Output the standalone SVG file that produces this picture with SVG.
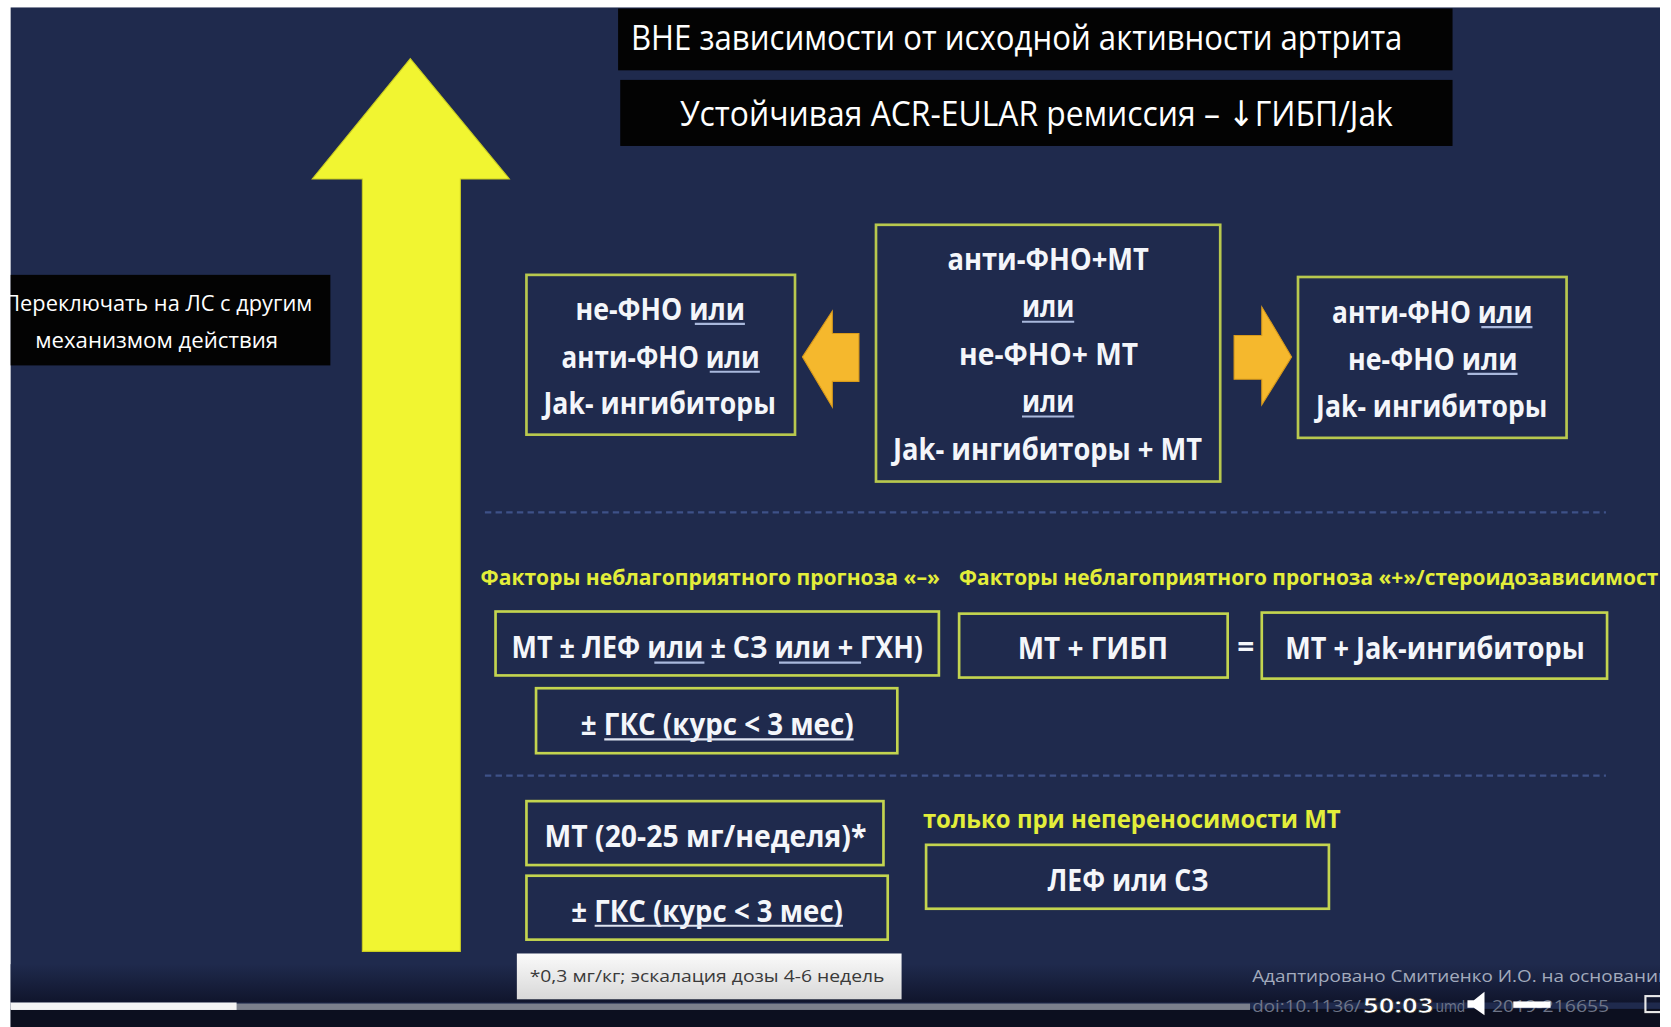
<svg xmlns="http://www.w3.org/2000/svg" width="1671" height="1027" viewBox="0 0 1671 1027">
<defs>
<style>
.bx{fill:#1f2a4d;stroke:#b8c84e;stroke-width:2.5}
.bx2{fill:#1f2a4d;stroke:#c3d44f;stroke-width:2.5}
.t{font-family:"Open Sans","Noto Sans","DejaVu Sans",sans-serif;font-weight:700;fill:#f4f6fa;font-size:28px}
.ttl{font-family:"Open Sans","Noto Sans","DejaVu Sans",sans-serif;font-weight:400;fill:#ffffff;font-size:33px}
.y{font-family:"Open Sans","Noto Sans","DejaVu Sans",sans-serif;font-weight:700;fill:#e3ee3a}
.ul{stroke:#a9b8dc;stroke-width:2}
.ulw{stroke:#dfe5f2;stroke-width:2}
.dash{stroke:#3e5188;stroke-width:2;stroke-dasharray:6 4;fill:none}
.orng{fill:#f5b82d;stroke:#d99a1a;stroke-width:1}
.doi{font-family:"Open Sans","Noto Sans",sans-serif;font-size:16px;fill:#6e7588}
</style>
<linearGradient id="bot" x1="0" y1="0" x2="0" y2="1">
<stop offset="0" stop-color="#1f2a4d"/>
<stop offset="1" stop-color="#10152c"/>
</linearGradient>
<linearGradient id="fn" x1="0" y1="0" x2="0" y2="1">
<stop offset="0" stop-color="#fafafa"/>
<stop offset="1" stop-color="#d8d8d8"/>
</linearGradient>
</defs>
<rect x="0" y="0" width="1671" height="1027" fill="#ffffff"/>
<g transform="scale(1.06569,1.06535)">
<rect x="10" y="7" width="1548" height="957" fill="#1f2a4d"/>
<rect x="10" y="905" width="1548" height="36" fill="url(#bot)"/>
<rect x="10" y="947" width="1548" height="17" fill="#0c0f1f"/>

<g id="title1">
<rect x="580" y="8" width="783" height="58" fill="#030303"/>
<text class="ttl" x="592" y="47" textLength="724" lengthAdjust="spacingAndGlyphs">ВНЕ зависимости от исходной активности артрита</text>
</g>
<g id="title2">
<rect x="582" y="75" width="781" height="62" fill="#030303"/>
<text class="ttl" x="638" y="118" textLength="669" lengthAdjust="spacingAndGlyphs">Устойчивая ACR-EULAR ремиссия – ↓ГИБП/Jak</text>
</g>

<g id="big-arrow">
<polygon points="385,55 478,168 432,168 432,893 340,893 340,168 293,168" fill="#f1f531" stroke="#c9cc22" stroke-width="1"/>
</g>

<g id="switch-note">
<rect x="10" y="258" width="300" height="85" fill="#030303"/>
<text x="4" y="292" font-family="Open Sans, Noto Sans, sans-serif" font-size="21" fill="#ffffff" textLength="289" lengthAdjust="spacingAndGlyphs">Переключать на ЛС с другим</text>
<text x="33" y="327" font-family="Open Sans, Noto Sans, sans-serif" font-size="21" fill="#ffffff" textLength="228" lengthAdjust="spacingAndGlyphs">механизмом действия</text>
</g>

<g id="box-left">
<rect class="bx" x="494" y="258" width="252" height="150"/>
<text class="t" x="540" y="300" textLength="159" lengthAdjust="spacingAndGlyphs">не-ФНО или</text>
<text class="t" x="527" y="345" textLength="186" lengthAdjust="spacingAndGlyphs">анти-ФНО или</text>
<text class="t" x="510" y="389" textLength="218" lengthAdjust="spacingAndGlyphs">Jak- ингибиторы</text>
<line class="ul" x1="652" y1="304" x2="699" y2="304"/>
<line class="ul" x1="666" y1="349" x2="713" y2="349"/>
</g>

<g id="box-center">
<rect class="bx" x="822" y="211" width="323" height="241"/>
<text class="t" x="889" y="253" textLength="189" lengthAdjust="spacingAndGlyphs">анти-ФНО+МТ</text>
<text class="t" x="959" y="298" textLength="49" lengthAdjust="spacingAndGlyphs">или</text>
<text class="t" x="900" y="343" textLength="168" lengthAdjust="spacingAndGlyphs">не-ФНО+ МТ</text>
<text class="t" x="959" y="387" textLength="49" lengthAdjust="spacingAndGlyphs">или</text>
<text class="t" x="838" y="432" textLength="290" lengthAdjust="spacingAndGlyphs">Jak- ингибиторы + МТ</text>
<line class="ul" x1="959" y1="302" x2="1008" y2="302"/>
<line class="ul" x1="959" y1="391" x2="1008" y2="391"/>
</g>

<g id="box-right">
<rect class="bx" x="1218" y="260" width="252" height="151"/>
<text class="t" x="1250" y="303" textLength="188" lengthAdjust="spacingAndGlyphs">анти-ФНО или</text>
<text class="t" x="1265" y="347" textLength="159" lengthAdjust="spacingAndGlyphs">не-ФНО или</text>
<text class="t" x="1235" y="391" textLength="217" lengthAdjust="spacingAndGlyphs">Jak- ингибиторы</text>
<line class="ul" x1="1390" y1="307" x2="1438" y2="307"/>
<line class="ul" x1="1377" y1="351" x2="1424" y2="351"/>
</g>

<g id="connectors">
<polygon class="orng" points="753,335 781,292 781,313 806,313 806,358 781,358 781,382"/>
<polygon class="orng" points="1158,315 1184,315 1184,288 1212,335 1184,380 1184,356 1158,356"/>
<line class="dash" x1="455" y1="481" x2="1507" y2="481"/>
<line class="dash" x1="455" y1="728" x2="1507" y2="728"/>
</g>

<g id="label-minus">
<text class="y" x="451" y="549" font-size="20" textLength="431" lengthAdjust="spacingAndGlyphs">Факторы неблагоприятного прогноза «–»</text>
</g>
<g id="label-plus">
<text class="y" x="900" y="549" font-size="20" textLength="656" lengthAdjust="spacingAndGlyphs">Факторы неблагоприятного прогноза «+»/стероидозависимост</text>
</g>

<g id="box-mt-lef">
<rect class="bx2" x="465" y="574" width="416" height="60"/>
<text class="t" x="480" y="618" font-size="29" font-weight="600" textLength="386" lengthAdjust="spacingAndGlyphs">МТ ± ЛЕФ или ± СЗ или + ГХН)</text>
<line class="ul" x1="614" y1="622" x2="661" y2="622"/>
<line class="ul" x1="731" y1="622" x2="808" y2="622"/>
</g>
<g id="box-gks-1">
<rect class="bx2" x="503" y="646" width="339" height="61"/>
<text class="t" x="545" y="690" font-size="29" font-weight="600" textLength="256" lengthAdjust="spacingAndGlyphs">± ГКС (курс &lt; 3 мес)</text>
<line class="ulw" x1="567" y1="694" x2="801" y2="694"/>
</g>
<g id="box-mt-gibp">
<rect class="bx2" x="900" y="576" width="252" height="60"/>
<text class="t" x="955" y="619" font-size="29" font-weight="600" textLength="141" lengthAdjust="spacingAndGlyphs">МТ + ГИБП</text>
</g>
<g id="equals">
<text class="t" x="1169" y="617" font-size="26" text-anchor="middle">=</text>
</g>
<g id="box-mt-jak">
<rect class="bx2" x="1184" y="575" width="324" height="62"/>
<text class="t" x="1206" y="619" font-size="29" font-weight="600" textLength="281" lengthAdjust="spacingAndGlyphs">МТ + Jak-ингибиторы</text>
</g>

<g id="box-mt-dose">
<rect class="bx2" x="494" y="752" width="335" height="60"/>
<text class="t" x="511" y="795" font-size="29" font-weight="600" textLength="302" lengthAdjust="spacingAndGlyphs">МТ (20-25 мг/неделя)*</text>
</g>
<g id="box-gks-2">
<rect class="bx2" x="494" y="822" width="339" height="60"/>
<text class="t" x="536" y="865" font-size="29" font-weight="600" textLength="255" lengthAdjust="spacingAndGlyphs">± ГКС (курс &lt; 3 мес)</text>
<line class="ulw" x1="558" y1="869" x2="791" y2="869"/>
</g>
<g id="label-intolerance">
<text class="y" x="866" y="777" font-size="24" textLength="392" lengthAdjust="spacingAndGlyphs">только при непереносимости МТ</text>
</g>
<g id="box-lef-sz">
<rect class="bx2" x="869" y="793" width="378" height="60"/>
<text class="t" x="983" y="836" font-size="29" font-weight="600" textLength="151" lengthAdjust="spacingAndGlyphs">ЛЕФ или СЗ</text>
</g>

<g id="footnote">
<rect x="485" y="895" width="361" height="43" fill="url(#fn)"/>
<text x="497" y="922" font-family="Open Sans, Noto Sans, sans-serif" font-size="16" fill="#3a3a3a" textLength="333" lengthAdjust="spacingAndGlyphs">*0,3 мг/кг; эскалация дозы 4-6 недель</text>
</g>

<g id="source">
<text x="1175" y="922" font-family="Open Sans, Noto Sans, sans-serif" font-size="16" fill="#a3abbd" textLength="392" lengthAdjust="spacingAndGlyphs">Адаптировано Смитиенко И.О. на основании</text>
<text class="doi" x="1175" y="950" textLength="102" lengthAdjust="spacingAndGlyphs">doi:10.1136/</text>
<text class="doi" x="1347" y="950" textLength="28" lengthAdjust="spacingAndGlyphs">umd</text>
<text class="doi" x="1400" y="950" textLength="110" lengthAdjust="spacingAndGlyphs">2019-216655</text>
</g>

<g id="player">
<rect x="10" y="942" width="1163" height="6" fill="#7b808c"/>
<rect x="10" y="941" width="212" height="7" fill="#f4f4f4"/>
<text x="1279" y="951" font-family="Open Sans, Noto Sans, sans-serif" font-weight="700" font-size="20" fill="#ffffff" stroke="#222" stroke-width="0.6" textLength="66" lengthAdjust="spacingAndGlyphs">50:03</text>
<polygon points="1377,939 1383,939 1393,931 1393,953 1383,946 1377,946" fill="#ffffff"/>
<rect x="1420" y="940" width="35" height="6" fill="#ffffff"/>
<rect x="1544" y="935" width="16" height="15" fill="none" stroke="#e8e8e8" stroke-width="2"/>
</g>
</g>
<rect x="0" y="0" width="1671" height="7" fill="#ffffff"/>
<rect x="0" y="0" width="10" height="1027" fill="#ffffff"/>
<rect x="1660" y="0" width="11" height="1027" fill="#ffffff"/>
</svg>
